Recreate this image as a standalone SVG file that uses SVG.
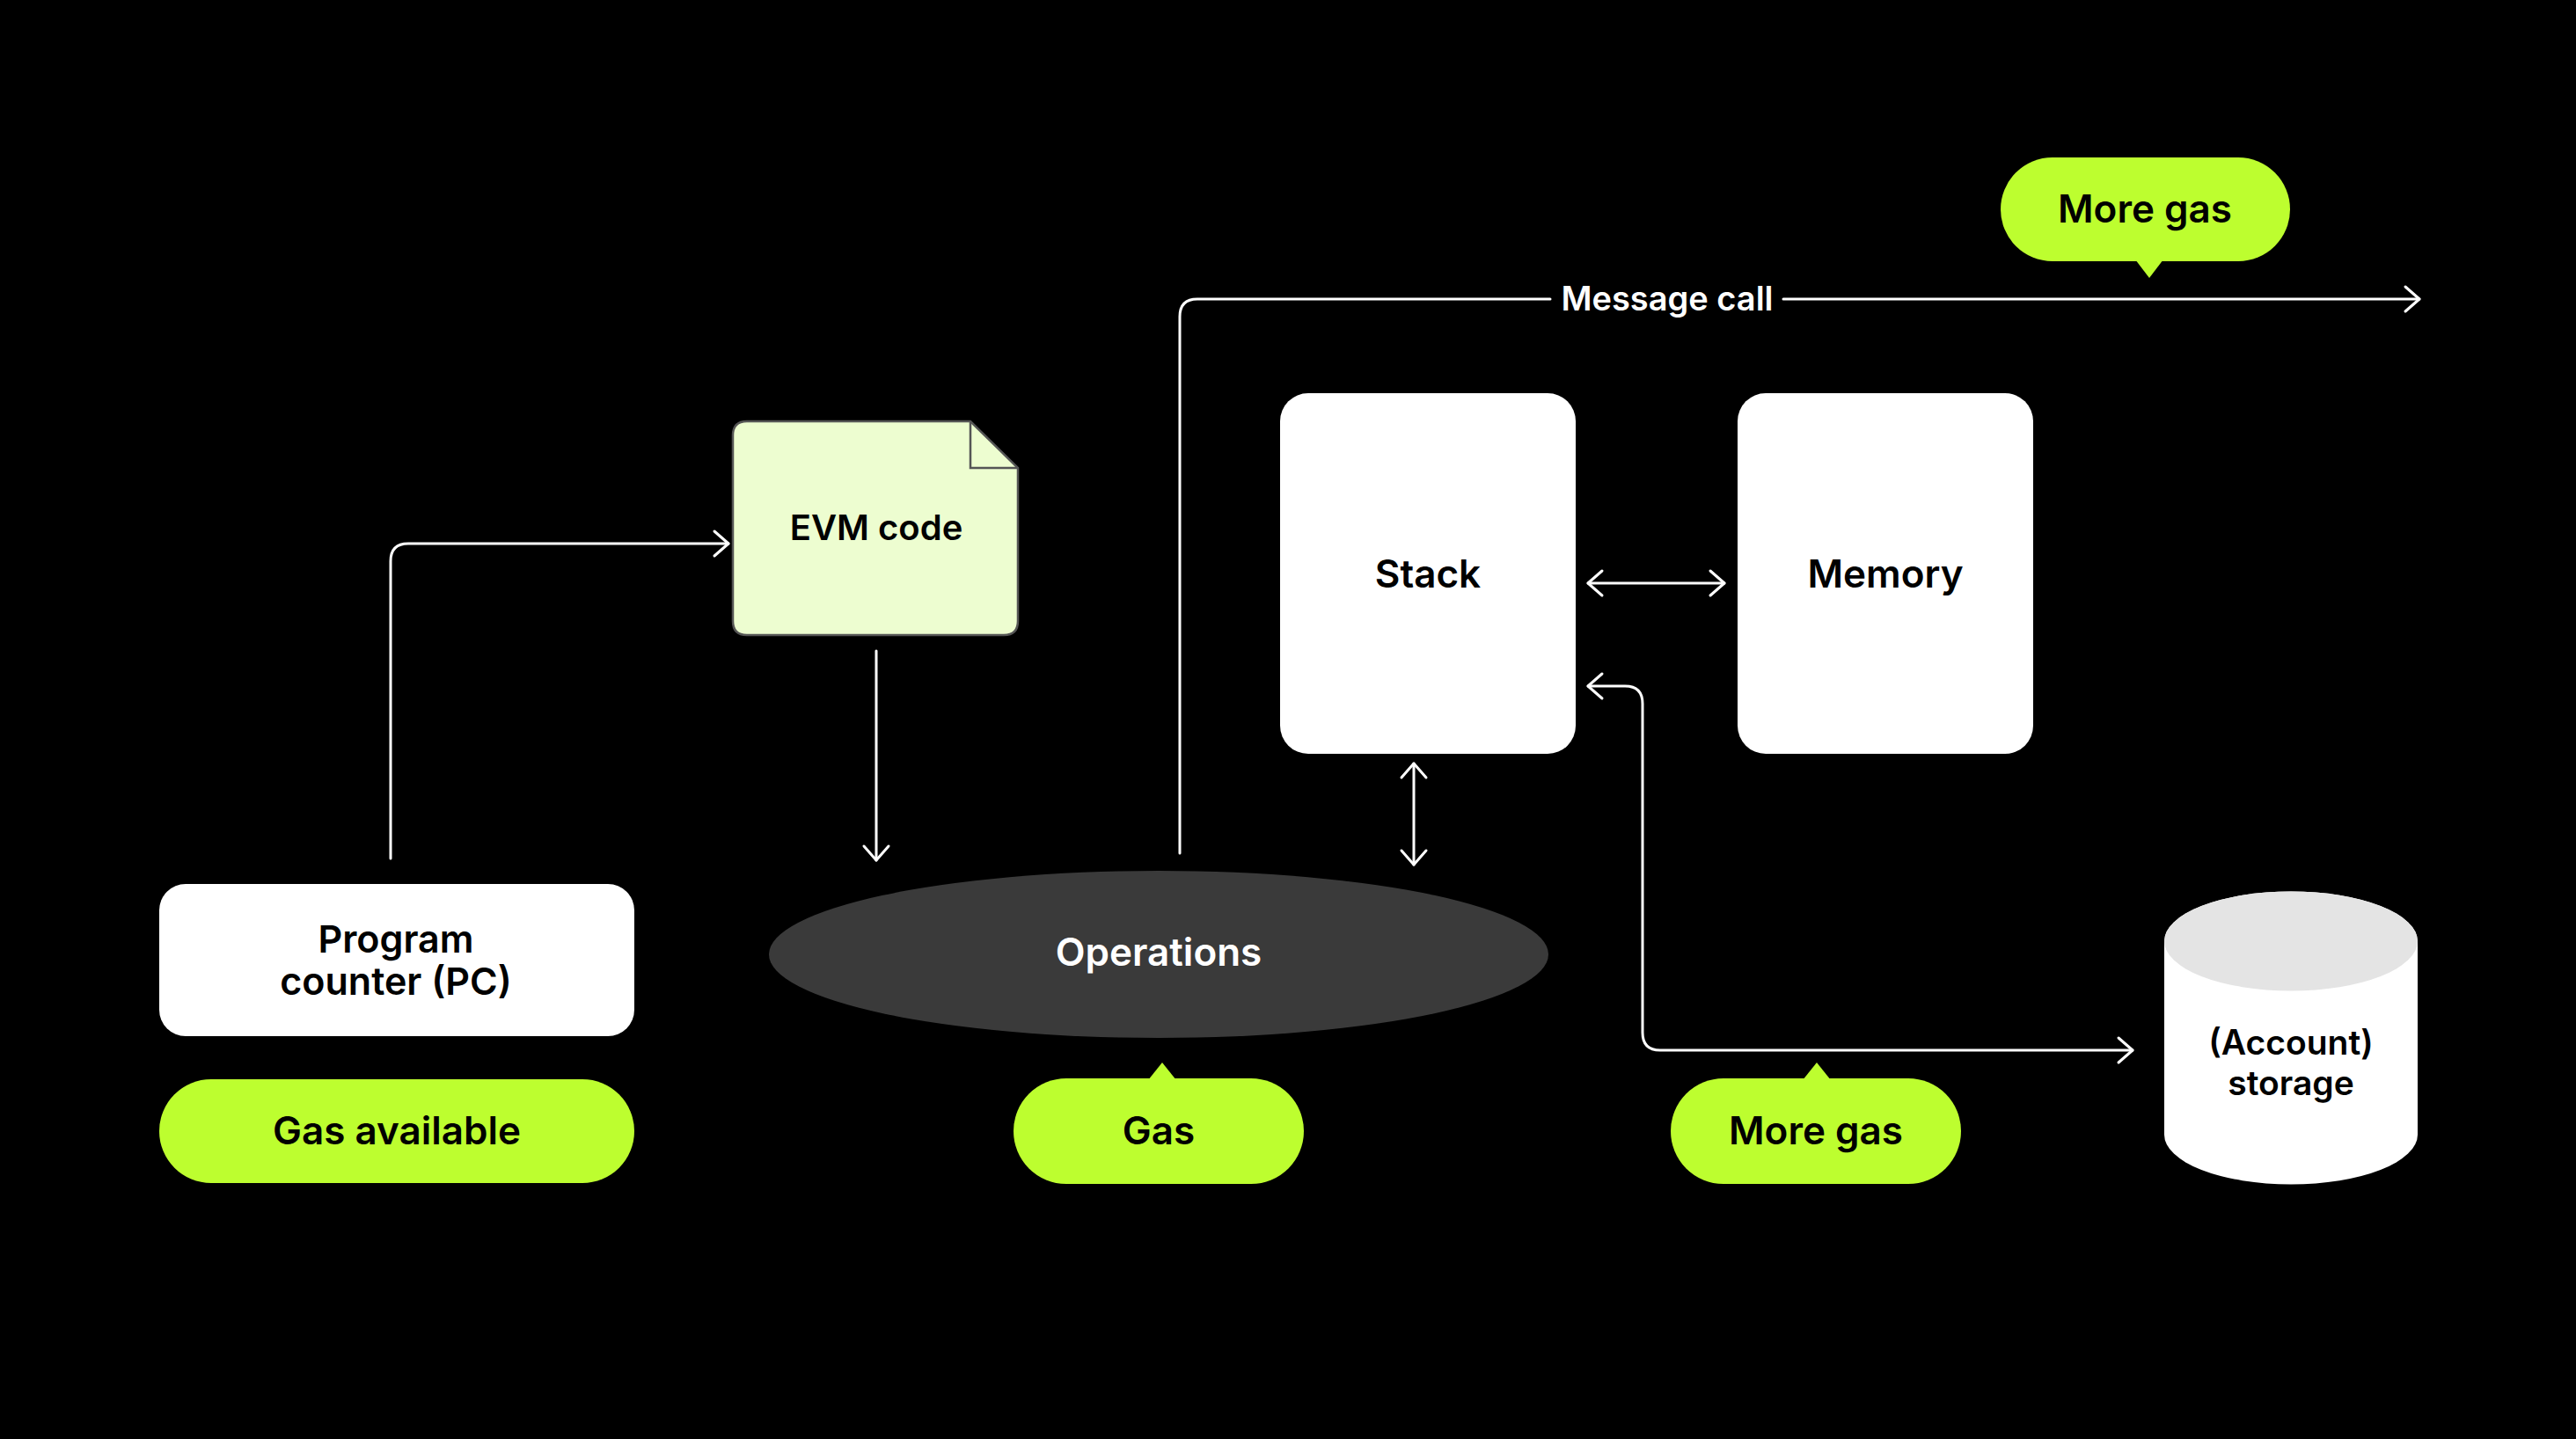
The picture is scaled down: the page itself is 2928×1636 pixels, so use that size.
<svg xmlns="http://www.w3.org/2000/svg" width="2928" height="1636" viewBox="0 0 2928 1636">
<style>
.t{font-family:Inter,"Noto Sans","Liberation Sans",sans-serif;font-weight:600;text-anchor:middle;fill:#000}
.w{fill:#fff}
.pill{fill:#bdfe2f}
.box{fill:#fff}
.ln{fill:none;stroke:#fff;stroke-width:3;stroke-linecap:round;stroke-linejoin:round}
</style>
<defs>
<marker id="arr" viewBox="-20 -18 24 36" refX="0" refY="0" markerWidth="24" markerHeight="36" markerUnits="userSpaceOnUse" orient="auto-start-reverse">
<path d="M-16,-14 L0,0 L-16,14" fill="none" stroke="#fff" stroke-width="3" stroke-linecap="round" stroke-linejoin="round"/>
</marker>
</defs>
<rect width="2928" height="1636" fill="#000"/>
<g id="connectors">
<path class="ln" d="M444,976 V638 Q444,618 464,618 H828" marker-end="url(#arr)"/>
<path class="ln" d="M996,740 V978" marker-end="url(#arr)"/>
<path class="ln" d="M1341,970 V360 Q1341,340 1361,340 H1762"/>
<path class="ln" d="M2027,340 H2750" marker-end="url(#arr)"/>
<text class="t w" x="1895" y="353" font-size="38">Message call</text>
<path class="ln" d="M1607,868 V983" marker-start="url(#arr)" marker-end="url(#arr)"/>
<path class="ln" d="M1805,663 H1960" marker-start="url(#arr)" marker-end="url(#arr)"/>
<path class="ln" d="M1805,780 H1847 Q1867,780 1867,800 V1174 Q1867,1194 1887,1194 H2424" marker-start="url(#arr)" marker-end="url(#arr)"/>
</g>
<g id="evm-code">
<path d="M849,479 H1103 L1157,532 V706 Q1157,722 1141,722 H849 Q833,722 833,706 V495 Q833,479 849,479 Z" fill="#edfdd0" stroke="#555" stroke-width="2.5"/>
<path d="M1103,479 V532 H1157" fill="none" stroke="#555" stroke-width="2.5"/>
<text class="t" x="996" y="614" font-size="40" font-weight="500">EVM code</text>
</g>
<g id="program-counter">
<rect class="box" x="181" y="1005" width="540" height="173" rx="30"/>
<text class="t" x="450" y="1083" font-size="43">Program</text>
<text class="t" x="450" y="1131" font-size="43">counter (PC)</text>
</g>
<g id="gas-available">
<rect class="pill" x="181" y="1227" width="540" height="118" rx="59"/>
<text class="t" x="451" y="1301" font-size="44">Gas available</text>
</g>
<g id="operations">
<ellipse cx="1317" cy="1085" rx="443" ry="95" fill="#3a3a3a"/>
<text class="t w" x="1317" y="1098" font-size="44">Operations</text>
</g>
<g id="gas">
<rect class="pill" x="1152" y="1226" width="330" height="120" rx="60"/>
<path class="pill" d="M1305,1228 L1321,1208 L1337,1228 Z"/>
<text class="t" x="1317" y="1301" font-size="44">Gas</text>
</g>
<g id="stack">
<rect class="box" x="1455" y="447" width="336" height="410" rx="32"/>
<text class="t" x="1623" y="668" font-size="44">Stack</text>
</g>
<g id="memory">
<rect class="box" x="1975" y="447" width="336" height="410" rx="32"/>
<text class="t" x="2143" y="668" font-size="44">Memory</text>
</g>
<g id="more-gas-top">
<rect class="pill" x="2274" y="179" width="329" height="118" rx="59"/>
<path class="pill" d="M2427,295 L2443,316 L2459,295 Z"/>
<text class="t" x="2438" y="253" font-size="44">More gas</text>
</g>
<g id="more-gas-bottom">
<rect class="pill" x="1899" y="1226" width="330" height="120" rx="60"/>
<path class="pill" d="M2049,1228 L2065,1208 L2081,1228 Z"/>
<text class="t" x="2064" y="1301" font-size="44">More gas</text>
</g>
<g id="account-storage">
<path d="M2460,1070 V1290 A144,56.5 0 0 0 2748,1290 V1070 A144,56.5 0 0 0 2460,1070 Z" fill="#fff"/>
<ellipse cx="2604" cy="1070" rx="144" ry="56.5" fill="#e4e4e4"/>
<text class="t" x="2604" y="1199" font-size="39">(Account)</text>
<text class="t" x="2604" y="1245" font-size="39">storage</text>
</g>
</svg>
